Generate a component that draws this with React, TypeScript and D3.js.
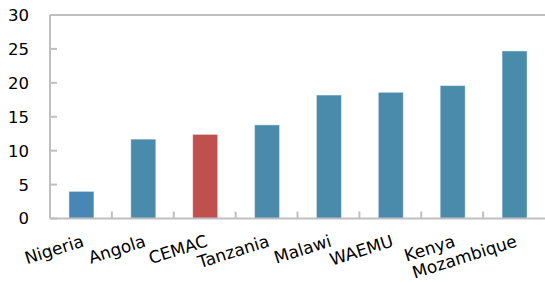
import React from "react";
import * as d3 from "d3";

const categories = ["Nigeria", "Angola", "CEMAC", "Tanzania", "Malawi", "WAEMU", "Kenya", "Mozambique"];
const values = [4.0, 11.7, 12.4, 13.8, 18.2, 18.6, 19.6, 24.7];
const barColors = ["#4a86b3", "#4a8bac", "#c0504d", "#4a8bac", "#4a8bac", "#4a8bac", "#4a8bac", "#4a8bac"];
const yTicks = [0, 5, 10, 15, 20, 25, 30];

const W = 545, H = 282;
const left = 50, right = 545, top = 15, bottom = 218.5;
const axisColor = "#bfbfbf";
const font = "'DejaVu Sans', Verdana, sans-serif";

export default function App() {
  const x = d3.scaleBand<string>().domain(categories).range([left, right]).paddingInner(0).paddingOuter(0);
  const y = d3.scaleLinear().domain([0, 30]).range([bottom, top]);
  const bw = 25;
  const boundaries = d3.range(1, categories.length).map((i) => left + i * x.step());
  return (
    <svg width={W} height={H} style={{ position: "absolute", left: 0, top: 0 }} fontFamily={font}>
      <rect width={W} height={H} fill="#fff" />
      {categories.map((c, i) => (
        <rect
          key={c}
          x={x(c)! + x.bandwidth() / 2 - bw / 2 + 0.5}
          y={y(values[i])}
          width={bw}
          height={bottom - y(values[i])}
          fill={barColors[i]}
          stroke="rgba(255,255,255,0.45)"
          strokeWidth={1}
        />
      ))}
      <line x1={left} x2={right} y1={top} y2={top} stroke={axisColor} strokeWidth={2} />
      <line x1={left} x2={left} y1={top} y2={bottom} stroke={axisColor} strokeWidth={2} />
      <line x1={left} x2={right} y1={bottom} y2={bottom} stroke={axisColor} strokeWidth={2} />
      {yTicks.map((t) => (
        <g key={t}>
          <line x1={left} x2={left + 7} y1={y(t)} y2={y(t)} stroke={axisColor} strokeWidth={2} />
          <text x={29} y={y(t)} dy="0.36em" textAnchor="end" fontSize={16.5} fill="#000">
            {t}
          </text>
        </g>
      ))}
      {boundaries.map((b, i) => (
        <line key={i} x1={b} x2={b} y1={bottom} y2={bottom - 7} stroke={axisColor} strokeWidth={2} />
      ))}
      {categories.map((c) => {
        const cx = x(c)! + x.bandwidth() / 2 + 4;
        const cy = 246;
        return (
          <text
            key={c}
            x={cx}
            y={cy}
            textAnchor="end"
            fontSize={17}
            fill="#000"
            transform={`rotate(-17.5, ${cx}, ${cy})`}
          >
            {c}
          </text>
        );
      })}
    </svg>
  );
}
